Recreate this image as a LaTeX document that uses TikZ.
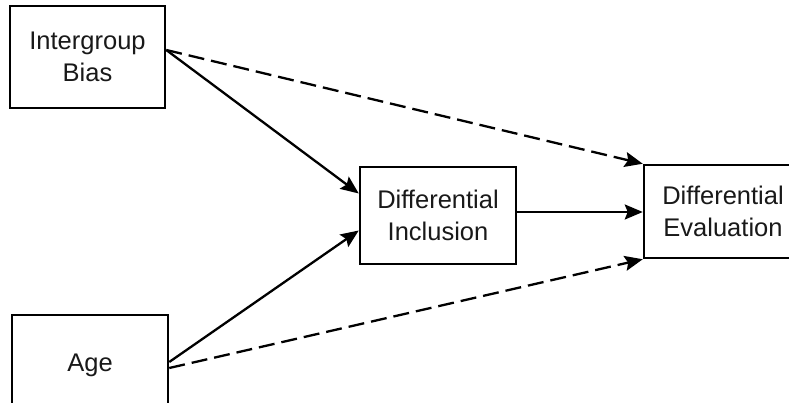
\documentclass[tikz,border=0pt]{standalone}
\usepackage{fontspec}
\setmainfont{Liberation Sans}
\usetikzlibrary{arrows.meta}
\begin{document}
\begin{tikzpicture}[x=1pt,y=1pt,
  box/.style={draw, line width=2.5pt, rectangle, align=center, inner sep=0pt,
    font=\fontsize{25.5}{32}\selectfont, text=black!90},
  conn/.style={line width=2.3pt, -{Stealth[length=18pt,width=15pt,inset=3pt]}},
  dashconn/.style={conn, dash pattern=on 16pt off 7pt}]
\clip (0,0) rectangle (789,-403);
\fill[white] (0,0) rectangle (789,-403);
\node[box, minimum width=155pt, minimum height=102pt] (ib) at (87.5,-57) {Intergroup\\Bias};
\node[box, minimum width=156pt, minimum height=100pt] (age) at (90,-365) {Age};
\node[box, minimum width=156pt, minimum height=97pt] (inc) at (438,-215.5) {Differential\\Inclusion};
\node[box, minimum width=158pt, minimum height=93pt] (ev) at (723,-211.5) {Differential\\Evaluation};
\draw[conn] ([yshift=7pt]ib.east) -- ([yshift=22pt]inc.west);
\draw[dashconn] ([yshift=7pt]ib.east) -- (ev.north west);
\draw[conn] ([yshift=3pt]age.east) -- ([yshift=-15pt]inc.west);
\draw[dashconn] ([yshift=-3pt]age.east) -- (ev.south west);
\draw[conn] ([yshift=3.5pt]inc.east) -- ([yshift=-0.5pt]ev.west);
\end{tikzpicture}
\end{document}
